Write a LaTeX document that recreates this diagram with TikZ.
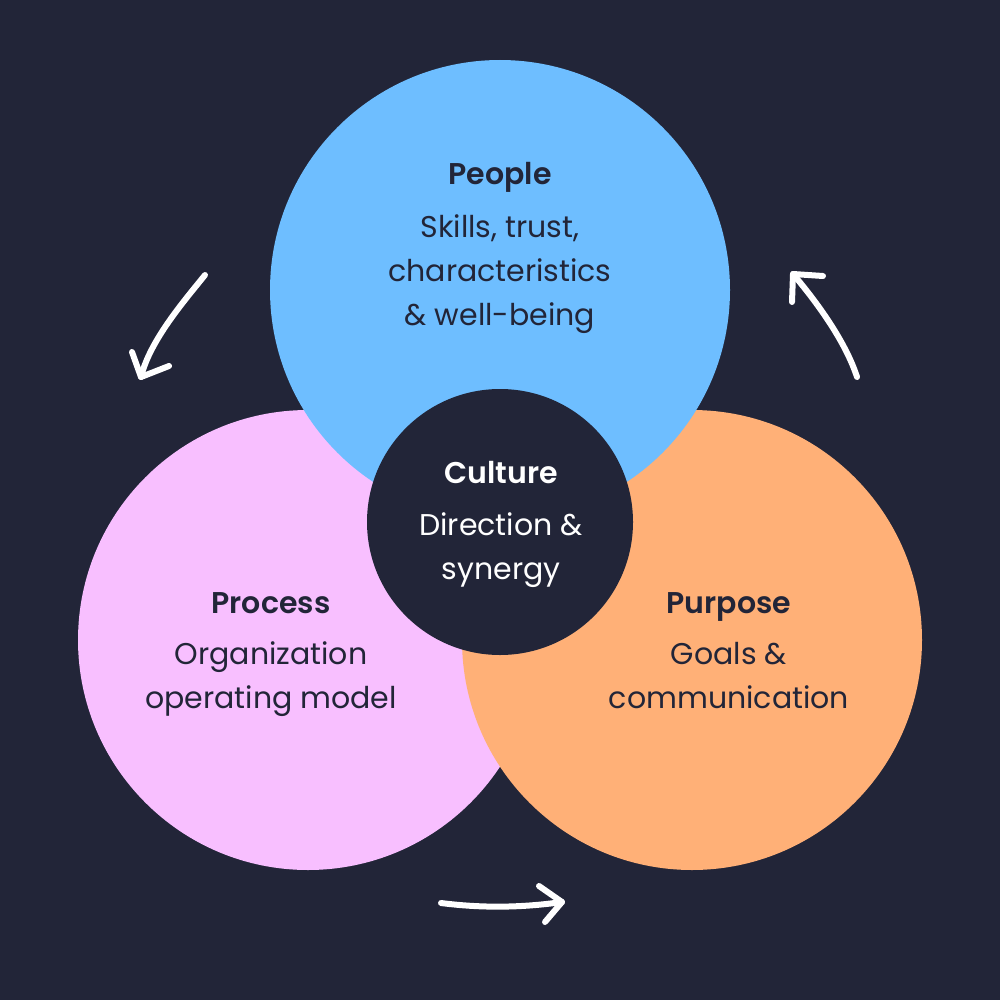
\documentclass[tikz,border=0pt]{standalone}
\usepackage{fontspec}
\setmainfont{Poppins}[BoldFont={Poppins SemiBold}]
\definecolor{bgc}{HTML}{222538}
\definecolor{bluec}{HTML}{6EBEFF}
\definecolor{pinkc}{HTML}{F8BFFF}
\definecolor{orangec}{HTML}{FFB077}
\tikzset{
  txt/.style={anchor=base, inner sep=0pt, font=\fontsize{30}{36}\selectfont},
  ttl/.style={txt, font=\fontsize{30}{36}\selectfont\bfseries},
  arr/.style={draw=white, line width=6pt, line cap=round, line join=round},
}
\begin{document}
\begin{tikzpicture}[x=1pt,y=-1pt]
\fill[bgc] (0,0) rectangle (1000,1000);
\useasboundingbox (0,0) rectangle (1000,1000);
\fill[pinkc] (308,640) circle[radius=230];
\fill[orangec] (692,640) circle[radius=230];
\fill[bluec] (500,290) circle[radius=230];
\fill[bgc] (500,522) circle[radius=133];
% People
\node[ttl, text=bgc] (peopleT) at (500,185) {People};
\node[txt, text=bgc] (people1) at (500,237) {Skills, trust,};
\node[txt, text=bgc] (people2) at (500,281) {characteristics};
\node[txt, text=bgc] (people3) at (500,325) {\& well-being};
% Culture
\node[ttl, text=white] (cultureT) at (501,483) {Culture};
\node[txt, text=white] (culture1) at (501,535) {Direction \&};
\node[txt, text=white] (culture2) at (501,579) {synergy};
% Process
\node[ttl, text=bgc] (processT) at (271,613) {Process};
\node[txt, text=bgc] (process1) at (271,664) {Organization};
\node[txt, text=bgc] (process2) at (271,708) {operating model};
% Purpose
\node[ttl, text=bgc] (purposeT) at (729,613) {Purpose};
\node[txt, text=bgc] (purpose1) at (729,664) {Goals \&};
\node[txt, text=bgc] (purpose2) at (729,708) {communication};
% arrows
\coordinate (a1s) at (205,275);
\coordinate (a1e) at (141,377);
\coordinate (a1l) at (132,352);
\coordinate (a1r) at (169,366);
\draw[arr] (a1s) .. controls (185,300) and (150,340) .. (a1e);
\draw[arr] (a1l) -- (a1e) -- (a1r);
\coordinate (a2s) at (857,377);
\coordinate (a2e) at (793,274);
\coordinate (a2l) at (792,302);
\coordinate (a2r) at (823,276);
\draw[arr] (a2s) .. controls (845,340) and (815,300) .. (a2e);
\draw[arr] (a2l) -- (a2e) -- (a2r);
\coordinate (a3s) at (441,903);
\coordinate (a3e) at (562,902);
\coordinate (a3l) at (539,886);
\coordinate (a3r) at (545,922);
\draw[arr] (a3s) .. controls (480,908) and (520,908) .. (a3e);
\draw[arr] (a3l) -- (a3e) -- (a3r);
\end{tikzpicture}
\end{document}
